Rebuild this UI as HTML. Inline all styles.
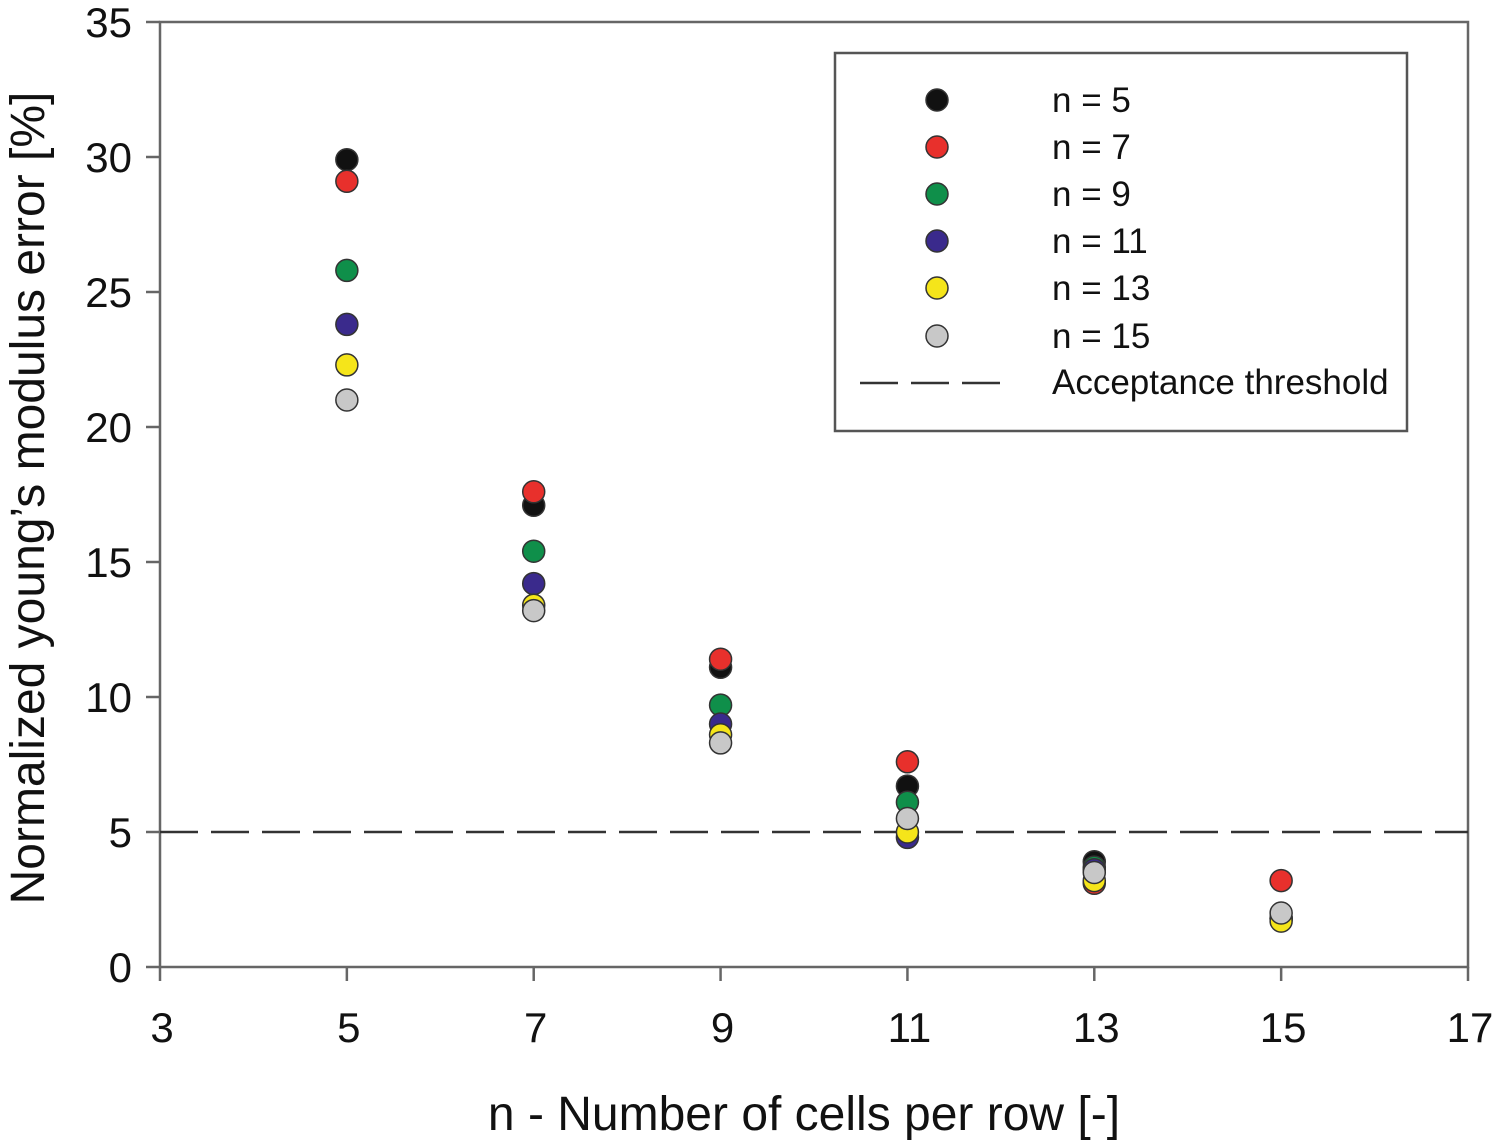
<!DOCTYPE html>
<html><head><meta charset="utf-8"><style>
body{margin:0;background:#fff;}
svg{display:block;font-family:"Liberation Sans",Arial,sans-serif;}
</style></head><body>
<svg id="chart" width="1492" height="1140" viewBox="0 0 1492 1140" xmlns="http://www.w3.org/2000/svg">
<g id="axes"></g>
<g id="marks"></g>
<g id="legend"></g>
</svg>
<script>
const xTicks=[3,5,7,9,11,13,15,17];
const yTicks=[0,5,10,15,20,25,30,35];
const categories=[5,7,9,11,13,15];
const seriesNames=["n = 5","n = 7","n = 9","n = 11","n = 13","n = 15"];
const seriesColors=["#111111","#e8302c","#0f8f4a","#3a2a8c","#f5e51a","#c8c8c8"];
const s5=[29.9,17.1,11.1,6.7,3.9,1.8];
const s7=[29.1,17.6,11.4,7.6,3.1,3.2];
const s9=[25.8,15.4,9.7,6.1,3.7,1.8];
const s11=[23.8,14.2,9.0,4.8,3.6,1.8];
const s13=[22.3,13.4,8.6,5.0,3.2,1.7];
const s15=[21.0,13.2,8.3,5.5,3.5,2.0];
const seriesValues=[s5,s7,s9,s11,s13,s15];
const threshold=5;

const NS="http://www.w3.org/2000/svg";
const X0=160,X1=1468,Y0=967,Y1=22;
const xs=v=>X0+(v-3)/(17-3)*(X1-X0);
const ys=v=>Y0-(v/35)*(Y0-Y1);
function mk(tag,attrs,parent){const e=document.createElementNS(NS,tag);for(const k in attrs)e.setAttribute(k,attrs[k]);parent.appendChild(e);return e;}
const axes=document.getElementById('axes'),marks=document.getElementById('marks'),legend=document.getElementById('legend');

let frame=mk('rect',{x:X0,y:Y1,width:X1-X0,height:Y0-Y1,fill:'none',stroke:'#666','stroke-width':2.5},axes);



yTicks.forEach(t=>{
  const y=ys(t);
  let l=mk('line',{x1:X0-14,x2:X0,y1:y,y2:y,stroke:'#666','stroke-width':2.5},axes);
  
  
  let tx=mk('text',{x:X0-28,y:y+15,'text-anchor':'end','font-size':42,fill:'#111'},axes);
  tx.textContent=t;
  
  
});
xTicks.forEach(t=>{
  const x=xs(t);
  let l=mk('line',{x1:x,x2:x,y1:Y0,y2:Y0+14,stroke:'#666','stroke-width':2.5},axes);
  
  
  let tx=mk('text',{x:x+2,y:1042,'text-anchor':'middle','font-size':42,fill:'#111'},axes);
  tx.textContent=t;
  
  
});
let xt=mk('text',{x:804,y:1130,'text-anchor':'middle','font-size':48,fill:'#111'},axes);
xt.textContent='n - Number of cells per row [-]';


let yt=mk('text',{x:0,y:0,'text-anchor':'middle','font-size':48,fill:'#111',transform:'translate(44,498) rotate(-90)'},axes);
yt.textContent='Normalized young\u2019s modulus error [%]';



let th=mk('line',{x1:X0,x2:X1,y1:ys(threshold),y2:ys(threshold),stroke:'#333','stroke-width':2.5,'stroke-dasharray':'38,13'},marks);



seriesValues.forEach((vals,si)=>{
  vals.forEach((v,i)=>{
    let c=mk('circle',{cx:xs(categories[i]),cy:ys(v),r:11,fill:seriesColors[si],stroke:'#333','stroke-width':1.5},marks);
    
    
  });
});

let lb=mk('rect',{x:835,y:53,width:572,height:378,fill:'#fff',stroke:'#555','stroke-width':2.5},legend);


const ly=[100,147,194,241,288,336];
seriesNames.forEach((n,i)=>{
  let c=mk('circle',{cx:937,cy:ly[i],r:11,fill:seriesColors[i],stroke:'#333','stroke-width':1.5},legend);
  
  
  let t=mk('text',{x:1052,y:ly[i]+12,'font-size':35,fill:'#111'},legend);
  t.textContent=n;
  
  
});
let ll=mk('line',{x1:860,x2:1000,y1:383,y2:383,stroke:'#333','stroke-width':2.5,'stroke-dasharray':'38,13'},legend);


let lt=mk('text',{x:1052,y:394,'font-size':35,fill:'#111'},legend);
lt.textContent='Acceptance threshold';


</script>
</body></html>
